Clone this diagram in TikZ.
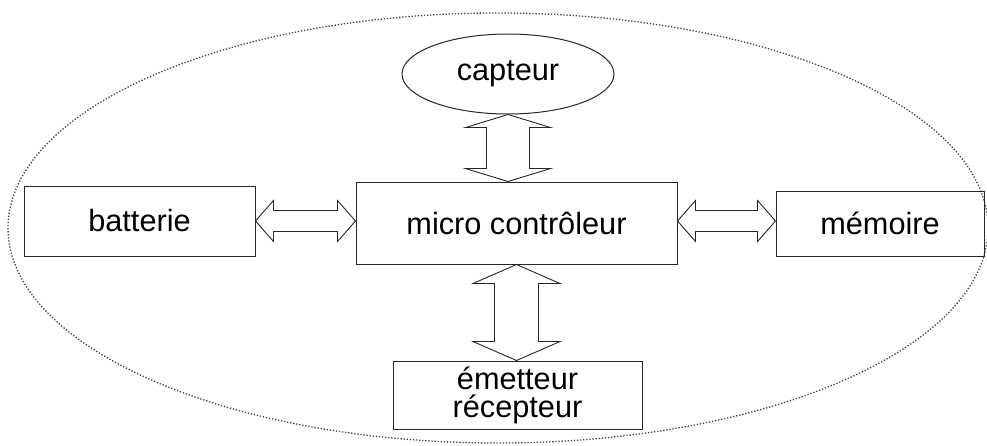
\documentclass[tikz,border=0pt]{standalone}
\usepackage{fontspec}
\setmainfont{Liberation Sans}
\usetikzlibrary{shapes.geometric,calc}

\tikzset{
  block/.style={draw=black!85, line width=1pt, rectangle, inner sep=0pt, align=center,
    font=\fontsize{30.7pt}{28pt}\selectfont},
  blob/.style={draw=black!85, line width=1pt, ellipse, inner sep=0pt,
    font=\fontsize{30.7pt}{28pt}\selectfont},
  boundary/.style={draw=black!75, line width=1.3pt, dash pattern=on 1.3pt off 1.8pt, ellipse, inner sep=0pt},
  fatarrow/.style={draw=black!85, line width=0.9pt, line join=miter, fill=white},
}

% double-headed block arrow, vertical: #1 top tip, #2 bottom tip,
% #3 half head width, #4 half shaft width, #5 head length
\newcommand\fatarrowV[5]{%
  \draw[fatarrow] let \p1=(#1), \p2=(#2) in
    (\x1,\y1) -- (\x1+#3,\y1-#5) -- (\x1+#4,\y1-#5) -- (\x1+#4,\y2+#5)
    -- (\x1+#3,\y2+#5) -- (\x1,\y2) -- (\x1-#3,\y2+#5) -- (\x1-#4,\y2+#5)
    -- (\x1-#4,\y1-#5) -- (\x1-#3,\y1-#5) -- cycle;}
% same, horizontal: #1 left tip, #2 right tip
\newcommand\fatarrowH[5]{%
  \draw[fatarrow] let \p1=(#1), \p2=(#2) in
    (\x1,\y1) -- (\x1+#5,\y1+#3) -- (\x1+#5,\y1+#4) -- (\x2-#5,\y1+#4)
    -- (\x2-#5,\y1+#3) -- (\x2,\y1) -- (\x2-#5,\y1-#3) -- (\x2-#5,\y1-#4)
    -- (\x1+#5,\y1-#4) -- (\x1+#5,\y1-#3) -- cycle;}

\begin{document}
\begin{tikzpicture}[x=1pt,y=-1pt]
\useasboundingbox (0,0) rectangle (987,445);

% system boundary
\node[boundary, minimum width=980pt, minimum height=430pt] (sys) at (498,228) {};

% blocks
\node[block, minimum width=231pt, minimum height=70pt] (bat) at (139.5,221) {batterie};
\node[block, minimum width=321pt, minimum height=82pt] (mc) at (516.5,223) {micro contrôleur};
\node[block, minimum width=208pt, minimum height=65pt] (mem) at (880,223.5) {mémoire};
\node[blob, minimum width=212pt, minimum height=80pt] (cap) at (508,74) {capteur};
\node[block, minimum width=249pt, minimum height=68pt] (em) at (517.5,395) {émetteur\\récepteur};

% links
\fatarrowV{cap.south}{mc.north -| cap.south}{42.5pt}{21.5pt}{13pt}
\fatarrowV{mc.south}{em.north -| mc.south}{43.5pt}{22pt}{19pt}
\fatarrowH{bat.east}{mc.west |- bat.east}{20.5pt}{10.5pt}{18pt}
\fatarrowH{mc.east |- bat.east}{mem.west |- bat.east}{20.5pt}{10.5pt}{18pt}
\end{tikzpicture}
\end{document}
